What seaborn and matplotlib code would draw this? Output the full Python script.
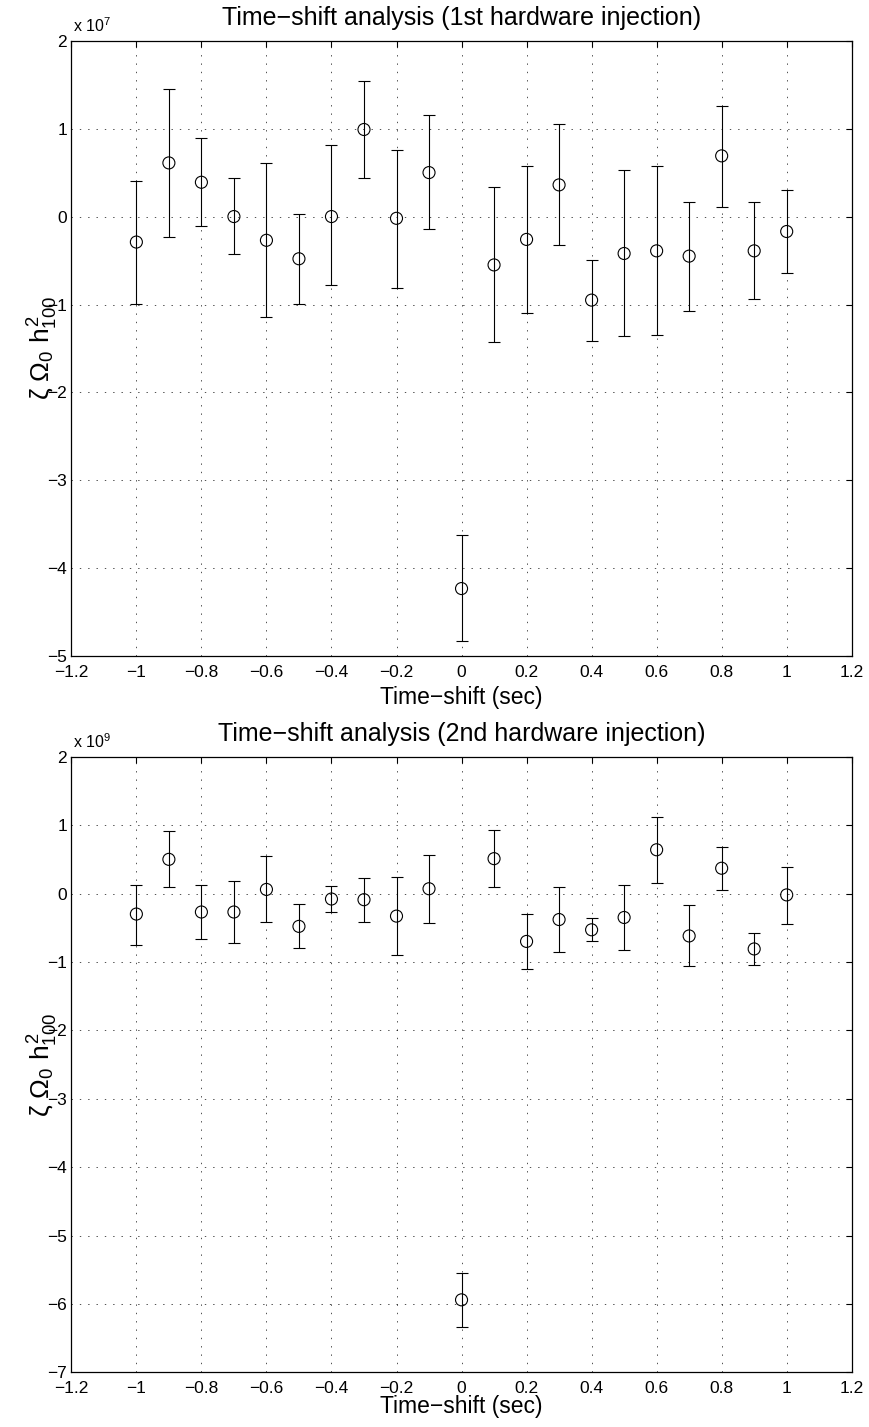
import numpy as np
import pandas as pd
import matplotlib
matplotlib.use("Agg")
import matplotlib.pyplot as plt
import matplotlib.ticker as mticker
import matplotlib.transforms as mtransforms
import seaborn as sns

# ---------------- data ----------------
shifts = [-1.0, -0.9, -0.8, -0.7, -0.6, -0.5, -0.4, -0.3, -0.2, -0.1, 0.0,
          0.1, 0.2, 0.3, 0.4, 0.5, 0.6, 0.7, 0.8, 0.9, 1.0]

# 1st hardware injection (units of 1e7)
mid1 = [-0.29, 0.61, 0.39, 0.00, -0.27, -0.48, 0.00, 0.99, -0.02, 0.50, -4.23,
        -0.55, -0.26, 0.36, -0.95, -0.42, -0.39, -0.45, 0.69, -0.39, -0.17]
hi1 = [0.40, 1.45, 0.89, 0.44, 0.61, 0.03, 0.81, 1.54, 0.76, 1.15, -3.62,
       0.34, 0.58, 1.05, -0.49, 0.53, 0.57, 0.17, 1.26, 0.16, 0.30]
lo1 = [-0.99, -0.23, -0.11, -0.43, -1.14, -0.99, -0.78, 0.44, -0.81, -0.14, -4.83,
       -1.43, -1.10, -0.32, -1.41, -1.36, -1.35, -1.07, 0.11, -0.94, -0.64]

# 2nd hardware injection (units of 1e9)
mid2 = [-0.30, 0.50, -0.27, -0.27, 0.06, -0.48, -0.08, -0.09, -0.33, 0.07, -5.94,
        0.51, -0.70, -0.38, -0.53, -0.35, 0.64, -0.62, 0.37, -0.81, -0.02]
hi2 = [0.13, 0.92, 0.12, 0.18, 0.55, -0.16, 0.11, 0.23, 0.24, 0.57, -5.55,
       0.93, -0.30, 0.10, -0.36, 0.13, 1.12, -0.17, 0.68, -0.58, 0.39]
lo2 = [-0.75, 0.10, -0.67, -0.73, -0.42, -0.80, -0.27, -0.41, -0.90, -0.43, -6.34,
       0.10, -1.10, -0.86, -0.70, -0.83, 0.15, -1.06, 0.05, -1.05, -0.44]

titles = ["Time\u2212shift analysis (1st hardware injection)",
          "Time\u2212shift analysis (2nd hardware injection)"]
exponents = ["7", "9"]
ylims = [(-5, 2), (-7, 2)]
xticks = [-1.2, -1.0, -0.8, -0.6, -0.4, -0.2, 0.0, 0.2, 0.4, 0.6, 0.8, 1.0, 1.2]
xlabel = "Time\u2212shift (sec)"
ylabel = r"$\zeta\ \Omega_0\ h^2_{100}$"

# ---------------- style ----------------
sns.set_theme(style="white")
plt.rcParams["font.family"] = ["Liberation Sans", "DejaVu Sans"]
plt.rcParams["mathtext.fontset"] = "custom"
plt.rcParams["mathtext.rm"] = "Liberation Sans"
plt.rcParams["mathtext.it"] = "Liberation Sans"
plt.rcParams["mathtext.bf"] = "Liberation Sans:bold"
plt.rcParams["axes.unicode_minus"] = True
plt.rcParams["lines.scale_dashes"] = False

fig = plt.figure(figsize=(8.7, 14.27), dpi=100)
left, right = 0.082, 0.979
ax1 = fig.add_axes([left, 0.5401, right - left, 0.9715 - 0.5401])
ax2 = fig.add_axes([left, 0.0383, right - left, 0.4697 - 0.0383])


def fmt(v, pos=None):
    s = f"{round(v, 6):g}"
    if s == "-0":
        s = "0"
    return s.replace("-", "\u2212")


labelpads = [4.5, -0.5]
panels = [(ax1, mid1, hi1, lo1), (ax2, mid2, hi2, lo2)]
for i, (ax, mid, hi, lo) in enumerate(panels):
    df = pd.DataFrame({"shift": shifts, "val": mid, "hi": hi, "lo": lo})
    yerr = np.vstack([df["val"] - df["lo"], df["hi"] - df["val"]])
    ax.errorbar(df["shift"], df["val"], yerr=yerr, fmt="none", ecolor="black",
                elinewidth=0.8, capsize=4.6, capthick=0.8, zorder=3)
    sns.scatterplot(data=df, x="shift", y="val", ax=ax, marker="o", s=75,
                    facecolors="none", edgecolor="black", linewidth=0.8,
                    zorder=4, legend=False)

    ax.set_xlim(-1.2, 1.2)
    ax.set_ylim(*ylims[i])
    ax.set_xticks(xticks)
    ax.set_yticks(np.arange(ylims[i][0], ylims[i][1] + 1, 1))
    ax.xaxis.set_major_formatter(mticker.FuncFormatter(fmt))
    ax.yaxis.set_major_formatter(mticker.FuncFormatter(fmt))
    ax.grid(True, which="major", color="black", linestyle=(0, (1, 5)),
            linewidth=0.6, alpha=0.8)
    ax.set_axisbelow(True)
    for sp in ax.spines.values():
        sp.set_visible(True)
        sp.set_color("black")
        sp.set_linewidth(0.9)
    ax.tick_params(axis="both", which="major", direction="in", length=4.5,
                   width=0.8, color="black", top=True, right=True,
                   labelsize=12.5, labelcolor="black")
    ax.tick_params(axis="x", pad=6)
    ax.tick_params(axis="y", pad=3)

    ax.set_title(titles[i], fontsize=18, y=1.0, pad=11, color="black")
    ax.set_xlabel(xlabel, fontsize=16.5, labelpad=labelpads[i], color="black")
    ax.set_ylabel(ylabel, fontsize=19, color="black")
    ax.yaxis.set_label_coords(-0.0145, 0.5)

    off = mtransforms.offset_copy(ax.transAxes, fig=fig, x=1, y=6, units="points")
    ax.text(0.0, 1.0, "x 10$^{" + exponents[i] + "}$", transform=off,
            ha="left", va="baseline", fontsize=11.5, color="black")

fig.savefig("out.png", dpi=100)
